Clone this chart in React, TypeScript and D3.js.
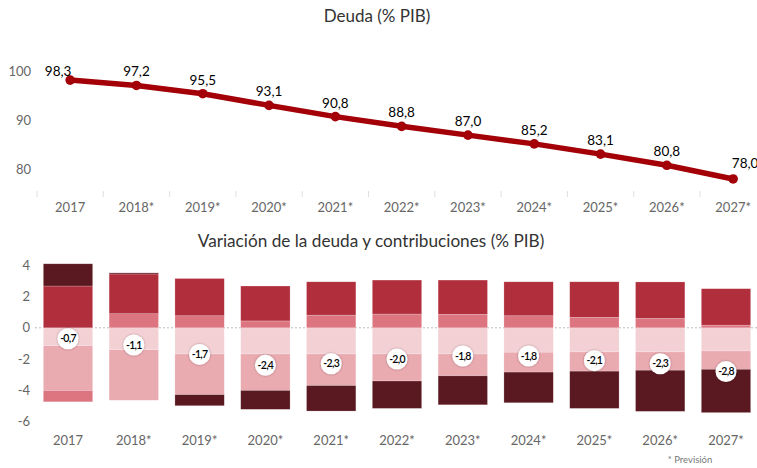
import React from "react";
import * as d3 from "d3";

const years = ["2017", "2018*", "2019*", "2020*", "2021*", "2022*", "2023*", "2024*", "2025*", "2026*", "2027*"];
const deuda = [98.3, 97.2, 95.5, 93.1, 90.8, 88.8, 87.0, 85.2, 83.1, 80.8, 78.0];
const variacion = [-0.7, -1.1, -1.7, -2.4, -2.3, -2.0, -1.8, -1.8, -2.1, -2.3, -2.8];
const topTicks = [80, 90, 100];
const bottomTicks = [-6, -4, -2, 0, 2, 4];

// contributions (stack order outward from zero)
const serieA = [-1.14, -1.4, -1.67, -1.67, -1.67, -1.67, -1.67, -1.56, -1.54, -1.54, -1.48];
const serieB = [-2.86, -3.23, -2.6, -2.33, -2.02, -1.73, -1.4, -1.27, -1.23, -1.17, -1.17];
const serieC = [-0.73, 0.9, 0.77, 0.44, 0.81, 0.88, 0.86, 0.77, 0.67, 0.6, 0.17];
const serieD = [2.67, 2.54, 2.38, 2.23, 2.13, 2.17, 2.19, 2.17, 2.27, 2.33, 2.33];
const serieE = [1.42, 0.07, -0.71, -1.21, -1.63, -1.75, -1.85, -1.96, -2.38, -2.63, -2.77];

const seriesKeys = ["A", "B", "C", "D", "E"];
const seriesColors: Record<string, string> = {
  A: "#f3d0d4",
  B: "#e9aab0",
  C: "#dd7580",
  D: "#b12e3d",
  E: "#5a1820",
};

const FONT = "Lato, 'Open Sans', sans-serif";

export default function App() {
  const W = 757;
  const H = 468;

  // Top chart scales
  const xTop = d3.scaleBand<string>().domain(years).range([37, 37 + 11 * 66.3]).padding(0);
  const yTop = d3.scaleLinear().domain([80, 100]).range([169.2, 71.8]);
  const line = d3
    .line<number>()
    .x((_, i) => (xTop(years[i]) as number) + xTop.bandwidth() / 2)
    .y((d) => yTop(d));

  // Bottom chart scales
  const xBot = d3.scaleBand<string>().domain(years).range([35.1, 35.1 + 11 * 65.8]).paddingInner(0.25).paddingOuter(0.125);
  const yBot = d3.scaleLinear().domain([-6, 4]).range([327.7 + 94, 327.7 - 62.5]);

  const table = years.map((y, i) => ({
    year: y,
    A: serieA[i],
    B: serieB[i],
    C: serieC[i],
    D: serieD[i],
    E: serieE[i],
  }));
  const stacked = d3
    .stack<any>()
    .keys(seriesKeys)
    .order(d3.stackOrderNone)
    .offset(d3.stackOffsetDiverging)(table);

  const labelDx = (i: number) => (i === 0 ? -12 : i === years.length - 1 ? 12 : 0);
  const labelDy = (i: number) => (i === 0 ? -4 : i === years.length - 1 ? -11 : -9);

  return (
    <svg
      width={W}
      height={H}
      style={{ position: "absolute", left: 0, top: 0, background: "#fff" }}
      fontFamily={FONT}
    >
      <defs>
        <filter id="shadow" x="-50%" y="-50%" width="200%" height="200%">
          <feDropShadow dx="0" dy="0" stdDeviation="1.2" floodColor="#000" floodOpacity="0.35" />
        </filter>
      </defs>

      {/* Top title */}
      <text x={377} y={22} textAnchor="middle" fontSize={17} fill="#333">
        Deuda (% PIB)
      </text>

      {/* Top y axis labels */}
      {topTicks.map((t) => (
        <text key={t} x={31} y={yTop(t)} dy="0.35em" textAnchor="end" fontSize={13} fill="#666">
          {t}
        </text>
      ))}

      {/* Top x tick marks */}
      {years.map((y) => (
        <line key={"tk" + y} x1={xTop(y) as number} x2={xTop(y) as number} y1={191} y2={197} stroke="#e0e0e0" />
      ))}
      {/* Top x labels */}
      {years.map((y) => (
        <text
          key={"xl" + y}
          x={(xTop(y) as number) + xTop.bandwidth() / 2}
          y={207}
          dy="0.35em"
          textAnchor="middle"
          fontSize={13}
          fill="#666"
        >
          {y}
        </text>
      ))}

      {/* Line */}
      <path d={line(deuda) || ""} fill="none" stroke="#a30008" strokeWidth={5.5} strokeLinejoin="round" />
      {deuda.map((d, i) => (
        <circle key={"pt" + i} cx={(xTop(years[i]) as number) + xTop.bandwidth() / 2} cy={yTop(d)} r={4.8} fill="#a30008" />
      ))}
      {deuda.map((d, i) => (
        <text
          key={"dl" + i}
          x={(xTop(years[i]) as number) + xTop.bandwidth() / 2 + labelDx(i)}
          y={yTop(d) + labelDy(i)}
          textAnchor="middle"
          fontSize={13.5}
          fill="#000"
        >
          {d.toFixed(1).replace(".", ",")}
        </text>
      ))}

      {/* Bottom title */}
      <text x={371} y={247} textAnchor="middle" fontSize={17.2} fill="#333">
        Variación de la deuda y contribuciones (% PIB)
      </text>

      {/* Bottom y labels */}
      {bottomTicks.map((t) => (
        <text key={"by" + t} x={30} y={yBot(t)} dy="0.35em" textAnchor="end" fontSize={13} fill="#666">
          {t}
        </text>
      ))}

      {/* Zero line */}
      <line x1={35} x2={757} y1={yBot(0)} y2={yBot(0)} stroke="#bbb" strokeDasharray="2,2" />

      {/* Stacked bars */}
      {stacked.map((s) => (
        <g key={s.key} fill={seriesColors[s.key]}>
          {s.map((d, i) => {
            const y0 = yBot(d[0]);
            const y1 = yBot(d[1]);
            const top = Math.min(y0, y1);
            const h = Math.abs(y1 - y0);
            if (h < 0.01) return null;
            return (
              <rect
                key={i}
                x={xBot(years[i]) as number}
                y={top}
                width={xBot.bandwidth()}
                height={h}
                stroke="#fff"
                strokeOpacity={0.35}
                strokeWidth={0.6}
              />
            );
          })}
        </g>
      ))}

      {/* Net variation circles */}
      {variacion.map((v, i) => {
        const cx = (xBot(years[i]) as number) + xBot.bandwidth() / 2;
        const cy = yBot(v);
        return (
          <g key={"vc" + i}>
            <circle cx={cx} cy={cy} r={10.5} fill="#fff" filter="url(#shadow)" />
            <text x={cx} y={cy} dy="0.35em" textAnchor="middle" fontSize={10.5} fontWeight={600} letterSpacing={-0.7} fill="#000">
              {v.toFixed(1).replace(".", ",")}
            </text>
          </g>
        );
      })}

      {/* Bottom x labels */}
      {years.map((y) => (
        <text
          key={"bx" + y}
          x={(xBot(y) as number) + xBot.bandwidth() / 2}
          y={440}
          dy="0.35em"
          textAnchor="middle"
          fontSize={13}
          fill="#666"
        >
          {y}
        </text>
      ))}

      <text x={690} y={460} dy="0.35em" textAnchor="middle" fontSize={9.5} fill="#777">
        * Previsión
      </text>
    </svg>
  );
}
